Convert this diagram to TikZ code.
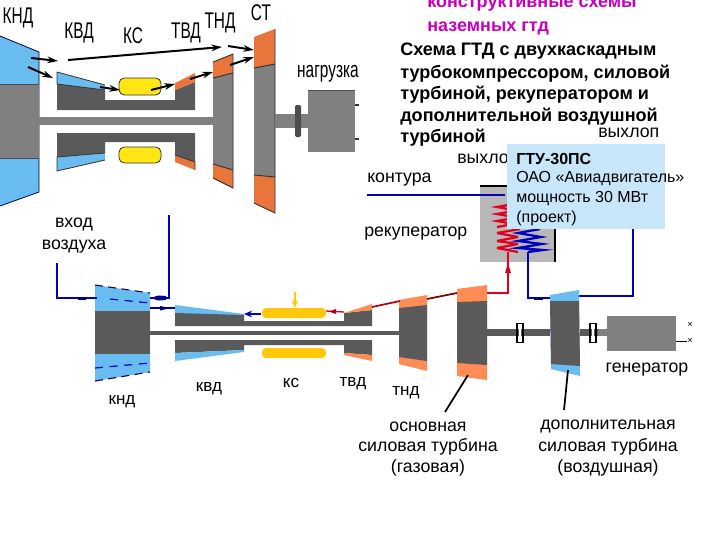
\documentclass[tikz,border=0pt]{standalone}
\usepackage{fontspec}
\setmainfont{Liberation Sans}
\usetikzlibrary{arrows.meta}
\definecolor{skyb}{RGB}{105,188,240}
\definecolor{orng}{RGB}{232,118,60}
\definecolor{orng2}{RGB}{255,140,85}
\definecolor{gry}{RGB}{128,128,128}
\definecolor{dgry}{RGB}{90,90,90}
\definecolor{ylw}{RGB}{255,230,20}
\definecolor{gold2}{RGB}{255,200,10}
\definecolor{dblue}{RGB}{0,0,190}
\definecolor{redl}{RGB}{225,0,30}
\definecolor{lbox}{RGB}{200,230,250}
\definecolor{mag}{RGB}{200,0,190}
\definecolor{recg}{RGB}{184,184,184}
\tikzset{
 lab/.style={inner sep=0pt,yshift=-2.2pt,font=\fontsize{13.3pt}{15pt}\selectfont},
 slab/.style={inner sep=0pt,yshift=-2.2pt,font=\fontsize{12.8pt}{14pt}\selectfont},
 tlab/.style={inner sep=0pt,yshift=-2.2pt,font=\fontsize{17pt}{19pt}\selectfont,xscale=.68,yscale=1},
 ttl/.style={inner sep=0pt,yshift=-1.1pt,anchor=west,font=\bfseries\fontsize{13.55pt}{15pt}\selectfont},
 mgt/.style={ttl,text=mag,font=\bfseries\fontsize{13.5pt}{15pt}\selectfont},
 boxt/.style={inner sep=0pt,yshift=-.9pt,anchor=west,font=\fontsize{12pt}{14pt}\selectfont},
 fl/.style={draw=black,line width=1.5pt,-{Stealth[length=8pt,width=5pt]}},
 bl/.style={draw=dblue,line width=1.5pt},
 blt/.style={draw=dblue,line width=.9pt},
 rl/.style={draw=redl,line width=1.5pt},
 dsh/.style={draw=black!70!blue,line width=.8pt,dash pattern=on 6pt off 4pt},
}
\begin{document}
\begin{tikzpicture}[x=0.75pt,y=-0.75pt]
\useasboundingbox (0,0) rectangle (720,540);
% ---- upper engine
\fill[skyb] (0,36)--(39,52)--(39,192)--(0,206)--cycle;
\draw[black!70!blue,line width=.6pt] (0,36)--(39,52)--(39,192)--(0,206);
\fill[gry] (0,84) rectangle (39,158);
\draw[black!70,line width=.5pt] (0,84)--(39,84) (0,158)--(39,158);
\fill[gry] (39,117) rectangle (213,125);
\fill[dgry] (57,84)--(105,90)--(105,100)--(175,100)--(175,90)--(195,82)--(195,110)--(57,110)--cycle;
\fill[skyb] (57,72)--(105,85)--(105,90)--(57,84)--cycle;
\draw[black!80,line width=.6pt] (57,72)--(105,85) (57,84)--(105,90) (57,72)--(57,84);
\fill[orng] (175,83)--(195,73)--(195,82)--(175,90)--cycle;
\fill[dgry] (57,133)--(195,133)--(195,162)--(175,155)--(175,142)--(105,142)--(105,153)--(57,157)--cycle;
\fill[skyb] (57,157)--(105,153)--(105,160)--(57,171)--cycle;
\draw[black!80,line width=.6pt] (57,157)--(105,153) (57,157)--(57,171)--(105,160);
\fill[orng] (175,155)--(195,162)--(195,170)--(175,162)--cycle;
\draw[black!80,line width=.6pt] (175,155)--(195,162)--(195,170);
\draw[fill=ylw,draw=black!80,line width=.6pt,rounded corners=4pt] (119,78) rectangle (161,95);
\draw[fill=ylw,draw=black!80,line width=.6pt,rounded corners=4pt] (119,147) rectangle (161,163);
% TND
\fill[orng] (213,62)--(233,54)--(233,188)--(213,178)--cycle;
\fill[gry] (213,78)--(233,73)--(233,170)--(213,164)--cycle;
\draw[black!80,line width=.7pt] (213,78)--(233,73) (213,164)--(233,170) (213,62)--(233,54)--(233,188)--(213,178);
% ST
\fill[orng] (254,37)--(275,29)--(275,213)--(254,203)--cycle;
\fill[gry] (254,68)--(275,64)--(275,177)--(254,175)--cycle;
\draw[black!80,line width=.7pt] (254,68)--(275,64) (254,175)--(275,177) (275,29)--(275,213)--(254,203);
\fill[gry] (275,114) rectangle (308,128);
\fill[gry] (308,90) rectangle (355,152);
\draw[black!70,line width=.5pt] (308,90)--(355,90);
\fill[black!70,rounded corners=1pt] (295,105) rectangle (301,137);
\draw[black!80,line width=1pt] (355,105)--(359,105) (355,139)--(359,139);
\coordinate (a1) at (31,58); \coordinate (a2) at (58,61);
\coordinate (b1) at (28,67); \coordinate (b2) at (53,78);
\coordinate (c1) at (68,60); \coordinate (c2) at (222,47);
\coordinate (d1) at (228,46); \coordinate (d2) at (254,50);
\coordinate (e1) at (100,87); \coordinate (e2) at (120,90);
\coordinate (f1) at (151,90); \coordinate (f2) at (175,84);
\coordinate (g1) at (190,79); \coordinate (g2) at (213,72);
\coordinate (h1) at (230,65); \coordinate (h2) at (254,57);
\draw[fl] (a1)--(a2);\draw[fl] (b1)--(b2);\draw[fl] (c1)--(c2);\draw[fl] (d1)--(d2);
\draw[fl] (e1)--(e2);\draw[fl] (f1)--(f2);\draw[fl] (g1)--(g2);\draw[fl] (h1)--(h2);
\node[tlab] (u1) at (18,15) {КНД};
\node[tlab] (u2) at (79,30) {КВД};
\node[tlab] (u3) at (133,33) {КС};
\node[tlab] (u4) at (186,30) {ТВД};
\node[tlab] (u5) at (220,20) {ТНД};
\node[tlab] (u6) at (261,10) {СТ};
\node[tlab] (u7) at (328,71) {нагрузка};
% ---- recuperator
\fill[recg] (480,186) rectangle (555,262);
\draw[black,line width=.8pt] (480,186)--(555,186)--(555,262);
\draw[redl,line width=1.7pt] (508,205)--(497,207)--(508,209) (508,212)--(497,214)--(508,216) (508,219)--(497,221)--(508,223);
\draw[redl,line width=1.7pt] (508,225)--(497,227);
\draw[redl,line width=1.7pt,line join=bevel] (520,229)--(497,233)--(518,237)--(497,241)--(518,244)--(497,248)--(518,252)--(508,250);
\draw[dblue,line width=1.7pt] (540,229)--(518,233)--(541,237)--(518,241)--(542,244)--(518,248)--(543,250)--(528,252);
\node[lab,anchor=west] (contur) at (367,177) {контура};
\coordinate (cn) at (367,195); \coordinate (cn2) at (505,195);
\draw[bl] (cn)--(cn2);
\node[lab,anchor=west] (rek) at (364,231) {рекуператор};
\node[lab,anchor=west] (vh2) at (457,156) {выхлоп};
\coordinate (r1) at (508,252); \coordinate (r2) at (508,293); \coordinate (r3) at (487,293);
\draw[rl] (r3)--(r2)--(r1);
\fill[redl] (508,263)--(511,273)--(505,273)--cycle;
\coordinate (q1) at (528,252); \coordinate (q2) at (528,298); \coordinate (q3) at (552,298);
\draw[bl] (q1)--(q2)--(q3);
\fill[dblue!70!black] (534,296.5) rectangle (543,299.5);
\coordinate (s1) at (633,229); \coordinate (s2) at (633,295.5); \coordinate (s3) at (579,295.5);
\draw[bl] (s1)--(s2)--(s3);
% ---- lower engine
\fill[skyb] (95,285)--(150,293)--(150,372)--(95,381)--cycle;
\fill[dgry] (95,311) rectangle (150,354);
\draw[dsh] (95,285)--(150,293); \draw[dsh] (95,381)--(150,372);
\draw[dblue,line width=.9pt,dash pattern=on 6pt off 5pt] (110,299)--(150,303) (95,368)--(150,363);
\fill[dgry] (150,331) rectangle (400,335);
\fill[skyb] (175,305)--(244,314)--(244,317)--(175,314)--cycle;
\fill[dgry] (175,313)--(244,315)--(244,321)--(344,321)--(344,313)--(372,310)--(372,326)--(175,326)--cycle;
\fill[orng2] (344,313)--(372,304)--(372,310)--cycle;
\fill[dgry] (175,340)--(372,340)--(372,355)--(344,353)--(344,345)--(244,345)--(244,350)--(175,353)--cycle;
\fill[skyb] (175,353)--(244,350)--(244,352)--(175,361)--cycle;
\fill[orng2] (344,353)--(372,355)--(372,361)--(344,355)--cycle;
\fill[gold2,rounded corners=3pt] (262,308) rectangle (326,318);
\fill[gold2,rounded corners=3pt] (262,348) rectangle (326,358);
% TND lower
\fill[orng2] (399,300)--(427,295)--(427,371)--(399,364)--cycle;
\fill[dgry] (399,308)--(427,305)--(427,361)--(399,357)--cycle;
% main turbine
\fill[orng2] (457,289)--(487,285)--(487,380)--(457,376)--cycle;
\fill[dgry] (457,302)--(487,301)--(487,365)--(457,363)--cycle;
\fill[dgry] (487,329) rectangle (550,336);
% add turbine
\fill[skyb] (550,295)--(579,290)--(580,376)--(551,369)--cycle;
\fill[dgry] (550,301)--(579,301)--(580,366)--(551,364)--cycle;
\fill[dgry] (580,329) rectangle (598,336);
\fill[gry] (598,329) rectangle (607,336);
\fill[gry] (607,316) rectangle (676,351);
\foreach \xx in {517,590}{
 \fill[dgry] (\xx,329) rectangle (\xx+6,336);
 \fill[white] (\xx+2,323) rectangle (\xx+4,342);
 \draw[black,line width=.8pt] (\xx,323)--(\xx,342) (\xx+6,323)--(\xx+6,342);
 \draw[black,line width=.4pt] (\xx-1,323)--(\xx+7,323) (\xx-1,342)--(\xx+7,342);
}
\node[inner sep=0pt,font=\fontsize{7pt}{7pt}\selectfont] (x1) at (690,325) {×};
\node[inner sep=0pt,font=\fontsize{7pt}{7pt}\selectfont] (x2) at (690,341) {×};
\coordinate (gn) at (676,341);
\draw[black,line width=.6pt] (gn)--(x2);
% lower connectors
\coordinate (i1) at (57,263); \coordinate (i2) at (57,298); \coordinate (i3) at (97,298);
\draw[blt] (i1)--(i2)--(i3);
\fill[dblue!70!black] (78,296.5) rectangle (86,299.5);
\coordinate (j1) at (169,215); \coordinate (j2) at (169,298); \coordinate (j3) at (150,298);
\draw[bl] (j1)--(j2)--(j3);
\fill[dblue!70!black] (151,298)--(158,295.5)--(166,296)--(166,300)--(158,300.5)--cycle;
\coordinate (k1) at (150,308); \coordinate (k2) at (175,308);
\draw[blt] (k1)--(k2);
\fill[dblue!70!black] (160,306)--(170,308)--(160,310.5)--cycle;
\coordinate (l1) at (261,314); \coordinate (l2) at (244,314);
\draw[bl,-{Stealth[length=6pt,width=5pt]}] (l1)--(l2);
\coordinate (m1) at (326,311); \coordinate (m2) at (344,312);
\draw[redl,line width=1pt] (m1)--(m2);
\fill[redl!80!black] (329,311.5)--(336,309)--(336,314)--cycle;
\coordinate (n1) at (372,307); \coordinate (n2) at (400,301);
\draw[redl!80!black,line width=1.3pt] (n1)--(n2);
\coordinate (o1) at (427,299); \coordinate (o2) at (457,293);
\draw[red!50!black,line width=1.3pt] (o1)--(o2);
\coordinate (p1) at (295,292); \coordinate (p2) at (295,308);
\draw[gold2,line width=1.2pt,-{Stealth[length=6pt,width=5pt]}] (p1)--(p2);
% leaders
\coordinate (la) at (468,375); \coordinate (lb) at (445,412);
\draw[black,line width=1.3pt] (la)--(lb);
\coordinate (lc) at (568,370); \coordinate (ld) at (564,410);
\draw[black,line width=1.3pt] (lc)--(ld);
% texts
\node[lab] (vh) at (74,222) {вход};
\node[lab] (vz) at (74,244) {воздуха};
\node[slab] (t1) at (209,386) {квд};
\node[slab] (t2) at (291,380) {кс};
\node[slab] (t3) at (353,381) {твд};
\node[slab] (t4) at (122,399) {кнд};
\node[slab] (t5) at (406,390) {тнд};
\node[lab] (gen) at (647,367) {генератор};
\node[lab] (o1t) at (428,424) {основная};
\node[lab] (o2t) at (428,444) {силовая турбина};
\node[lab] (o3t) at (428,465) {(газовая)};
\node[lab] (d1t) at (608,424) {дополнительная};
\node[lab] (d2t) at (608,444) {силовая турбина};
\node[lab] (d3t) at (608,465) {(воздушная)};
\node[mgt] (h1t) at (427,3) {конструктивные схемы};
\node[mgt] (h2t) at (427,27) {наземных гтд};
\node[ttl] (b1t) at (400,50) {Схема ГТД с двухкаскадным};
\node[ttl] (b2t) at (400,72) {турбокомпрессором, силовой};
\node[ttl] (b3t) at (400,93) {турбиной, рекуператором и};
\node[ttl] (b4t) at (400,115) {дополнительной воздушной};
\node[ttl] (b5t) at (400,136) {турбиной};
\node[lab,anchor=west] (vh1) at (598,130) {выхлоп};
% box
\fill[lbox] (507,144) rectangle (665,229);
\node[boxt,font=\bfseries\fontsize{12pt}{14pt}\selectfont] (g1t) at (516,158) {ГТУ-30ПС};
\node[boxt] (g2t) at (516,177) {ОАО «Авиадвигатель»};
\node[boxt] (g3t) at (516,197) {мощность 30 МВт};
\node[boxt] (g4t) at (516,217) {(проект)};
\end{tikzpicture}
\end{document}
